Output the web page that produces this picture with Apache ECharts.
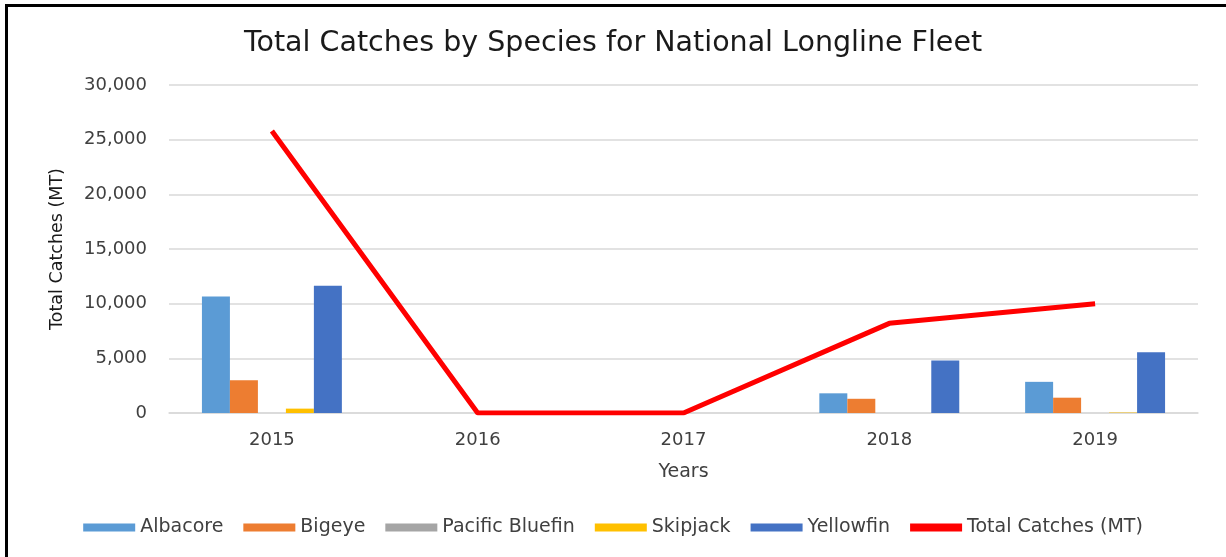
<!DOCTYPE html>
<html>
<head>
<meta charset="utf-8">
<script src="https://cdn.jsdelivr.net/npm/echarts@6/dist/echarts.min.js"></script>
<style>
  html, body { margin: 0; padding: 0; background: #fff; }
  #frame { position: absolute; left: 5px; top: 4px; width: 1218px; height: 560px;
           border-left: 3px solid #000; border-top: 3px solid #000; border-right: 1px solid #ccc; }
  #chart { position: absolute; left: 0; top: 0; width: 1226px; height: 557px; }
</style>
</head>
<body>
<div id="frame"></div>
<div id="chart"></div>
<script>
// Catches (metric tonnes) per species, national longline fleet
const years = ['2015', '2016', '2017', '2018', '2019'];
const albacore = [10650, 0, 0, 1800, 2850];
const bigeye = [3000, 0, 0, 1300, 1400];
const pacificBluefin = [0, 0, 0, 0, 0];
const skipjack = [400, 0, 0, 0, 40];
const yellowfin = [11650, 0, 0, 4800, 5550];
const totalCatches = [25800, 0, 0, 8200, 10000];
const yTicks = [0, 5000, 10000, 15000, 20000, 25000, 30000];

const FONT = '"DejaVu Sans", "Open Sans", sans-serif';

const chart = echarts.init(document.getElementById('chart'), null, { renderer: 'canvas' });

function barSeries(name, data, color) {
  return {
    name: name, type: 'bar', data: data,
    itemStyle: { color: color },
    barGap: '0%', barCategoryGap: '32%'
  };
}

chart.setOption({
  animation: false,
  backgroundColor: 'transparent',
  title: {
    text: 'Total Catches by Species for National Longline Fleet',
    left: 'center', top: 24,
    textStyle: { fontFamily: FONT, fontSize: 28.5, fontWeight: 'normal', color: '#1a1a1a' }
  },
  legend: {
    bottom: 15, left: 'center',
    itemWidth: 52, itemHeight: 8, itemGap: 20,
    textStyle: { fontFamily: FONT, fontSize: 19, color: '#404040' },
    data: [
      { name: 'Albacore', icon: 'rect' },
      { name: 'Bigeye', icon: 'rect' },
      { name: 'Pacific Bluefin', icon: 'rect' },
      { name: 'Skipjack', icon: 'rect' },
      { name: 'Yellowfin', icon: 'rect' },
      { name: 'Total Catches (MT)', icon: 'rect', itemStyle: { color: '#ff0000' } }
    ]
  },
  grid: { left: 169, right: 28, top: 85, bottom: 144, containLabel: false },
  xAxis: {
    type: 'category', data: years,
    name: 'Years', nameLocation: 'middle', nameGap: 50,
    nameTextStyle: { fontFamily: FONT, fontSize: 19, color: '#404040' },
    axisTick: { show: false },
    axisLine: { lineStyle: { color: '#d9d9d9', width: 1.5 } },
    axisLabel: { fontFamily: FONT, fontSize: 18, color: '#404040', margin: 18 }
  },
  yAxis: {
    type: 'value', min: 0, max: 30000, interval: 5000,
    name: 'Total Catches (MT)', nameLocation: 'middle', nameGap: 103, nameRotate: 90,
    nameTextStyle: { fontFamily: FONT, fontSize: 17.5, color: '#1a1a1a' },
    axisLine: { show: false }, axisTick: { show: false },
    splitLine: { lineStyle: { color: '#d9d9d9', width: 1.5 } },
    axisLabel: {
      fontFamily: FONT, fontSize: 18, color: '#404040', margin: 22,
      formatter: v => yTicks.includes(v) ? v.toLocaleString('en-US') : ''
    }
  },
  series: [
    barSeries('Albacore', albacore, '#5b9bd5'),
    barSeries('Bigeye', bigeye, '#ed7d31'),
    barSeries('Pacific Bluefin', pacificBluefin, '#a5a5a5'),
    barSeries('Skipjack', skipjack, '#ffc000'),
    barSeries('Yellowfin', yellowfin, '#4472c4'),
    {
      name: 'Total Catches (MT)', type: 'line', data: totalCatches,
      symbol: 'none', z: 5,
      lineStyle: { color: '#ff0000', width: 5 },
      itemStyle: { color: '#ff0000' }
    }
  ]
});
</script>
</body>
</html>
